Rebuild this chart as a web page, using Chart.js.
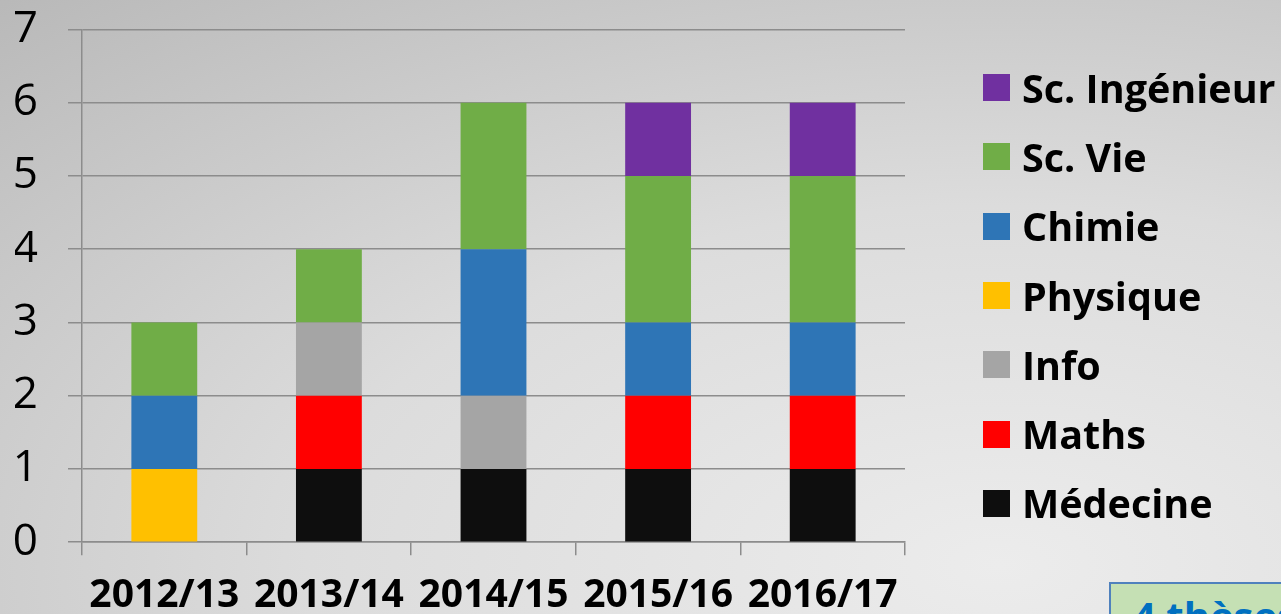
<!DOCTYPE html>
<html>
<head>
<meta charset="utf-8">
<script src="https://cdn.jsdelivr.net/npm/chart.js@4.4.1/dist/chart.umd.min.js"></script>
<style>
html, body { margin: 0; padding: 0; width: 1281px; height: 614px; overflow: hidden; }
body {
    position: relative;
    font-family: 'Open Sans', sans-serif;
    background: radial-gradient(ellipse 120% 130% at 78% 92%, #ececec 0%, #dcdcdc 45%, #b6b6b6 100%);
}
#chartWrap { position: absolute; left: 0; top: -27px; width: 1281px; height: 667px; }
#legend { position: absolute; left: 983px; top: 53px; }
.item { display: flex; align-items: center; height: 69.3px; }
.box { width: 27px; height: 27px; margin-right: 12px; }
.txt { font-weight: 700; font-size: 39.5px; color: #000; white-space: nowrap; }
#note {
    position: absolute; left: 1109px; top: 582px; width: 220px; height: 80px;
    background: #c5e0b4; border: 2px solid #4f81bd; box-sizing: border-box;
    color: #0070c0; font-weight: 700; font-size: 40px; padding: 4px 0 0 22px; white-space: nowrap;
}
</style>
</head>
<body>
<div id="chartWrap"><canvas id="thesesChart" width="1281" height="667"></canvas></div>
<div id="legend"></div>
<div id="note">4 thèses</div>
<script>
// categories and series (stacked from the bottom up)
const years = ['2012/13', '2013/14', '2014/15', '2015/16', '2016/17'];
const yTicks = [0, 1, 2, 3, 4, 5, 6, 7];

const medecine   = [0, 1, 1, 1, 1];
const maths      = [0, 1, 0, 1, 1];
const info       = [0, 1, 1, 0, 0];
const physique   = [1, 0, 0, 0, 0];
const chimie     = [1, 0, 2, 1, 1];
const scVie      = [1, 1, 2, 2, 2];
const scIngenieur = [0, 0, 0, 1, 1];

const seriesNames  = ['Médecine', 'Maths', 'Info', 'Physique', 'Chimie', 'Sc. Vie', 'Sc. Ingénieur'];
const seriesValues = [medecine, maths, info, physique, chimie, scVie, scIngenieur];
const seriesColors = ['#0e0e0e', '#ff0000', '#a5a5a5', '#ffc000', '#2e75b6', '#70ad47', '#7030a0'];

const axisGray = '#8c8c8c';

const datasets = seriesNames.map(function (name, i) {
    return {
        label: name,
        data: seriesValues[i],
        backgroundColor: seriesColors[i],
        borderWidth: 0,
        categoryPercentage: 1,
        barPercentage: 0.4
    };
});

const ctx = document.getElementById('thesesChart').getContext('2d');
new Chart(ctx, {
    type: 'bar',
    data: { labels: years, datasets: datasets },
    options: {
        responsive: false,
        animation: false,
        layout: { autoPadding: false, padding: { left: 15, right: 376, top: 30, bottom: 4 } },
        plugins: { legend: { display: false }, tooltip: { enabled: false } },
        scales: {
            x: {
                stacked: true,
                grid: { drawOnChartArea: false, drawTicks: true, tickLength: 13, color: axisGray, lineWidth: 1.5 },
                border: { color: axisGray, width: 1.5 },
                ticks: { color: '#000', padding: 17, font: { family: 'Open Sans', size: 39, weight: 'bold' } }
            },
            y: {
                stacked: true,
                min: yTicks[0],
                max: yTicks[yTicks.length - 1],
                afterBuildTicks: function (axis) { axis.ticks = yTicks.map(function (v) { return { value: v }; }); },
                afterFit: function (axis) { axis.width = 67; },
                grid: { tickLength: 14, color: axisGray, lineWidth: 1.5 },
                border: { color: axisGray, width: 1.5 },
                ticks: { color: '#000', padding: 30, font: { family: 'Open Sans', size: 44 } }
            }
        }
    }
});

// legend, top item = last series
const legend = document.getElementById('legend');
for (let i = seriesNames.length - 1; i >= 0; i--) {
    const row = document.createElement('div');
    row.className = 'item';
    row.innerHTML = '<span class="box" style="background:' + seriesColors[i] + '"></span><span class="txt">' + seriesNames[i] + '</span>';
    legend.appendChild(row);
}
</script>
</body>
</html>
